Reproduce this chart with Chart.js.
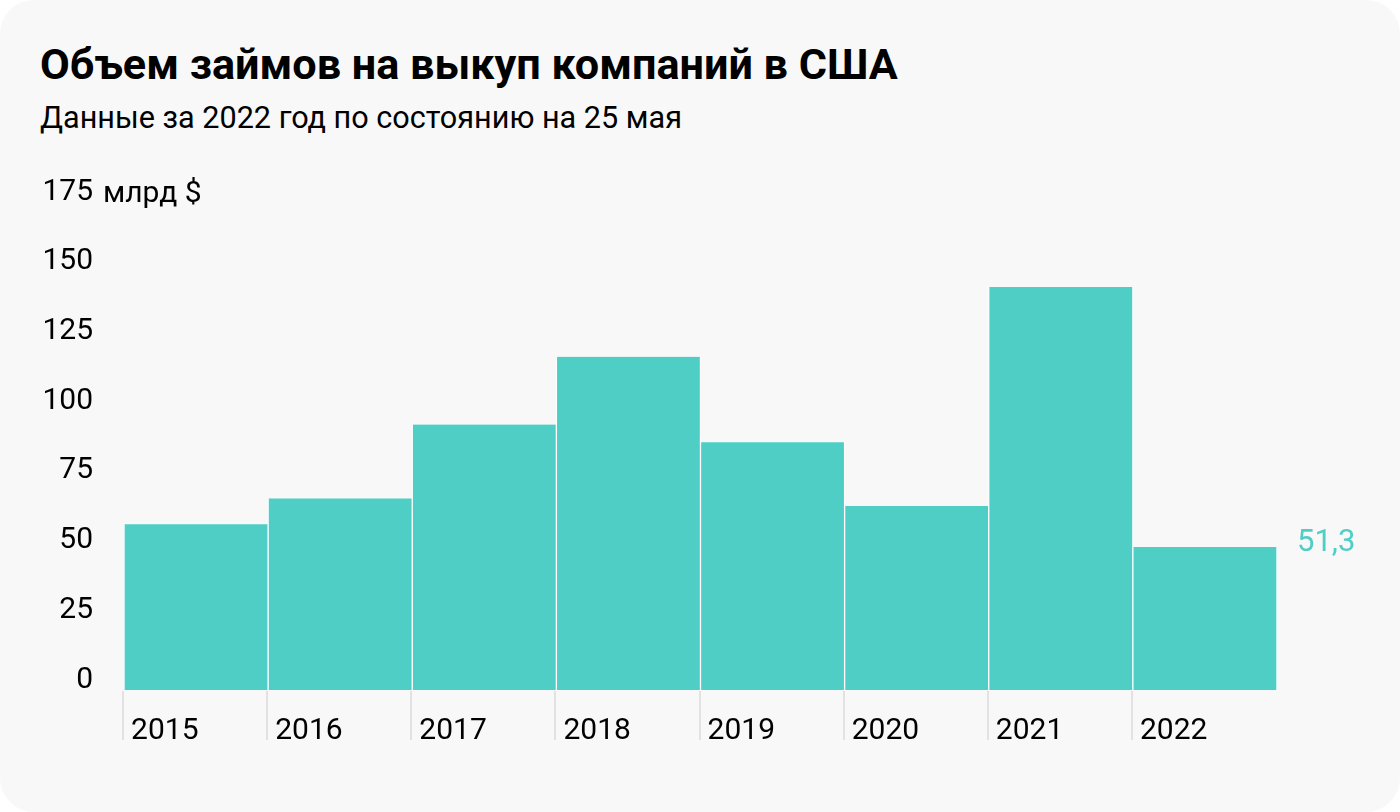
<!DOCTYPE html>
<html lang="ru">
<head>
<meta charset="utf-8">
<title>Объем займов на выкуп компаний в США</title>
<script src="https://cdn.jsdelivr.net/npm/chart.js@4/dist/chart.umd.min.js"></script>
<style>
  html, body { margin: 0; padding: 0; background: #ffffff; }
  .card {
    position: relative;
    width: 1400px;
    height: 812px;
    background: #f8f8f8;
    border-radius: 34px;
    overflow: hidden;
    font-family: Roboto, "Noto Sans", sans-serif;
    color: #000;
  }
  .title {
    position: absolute; left: 40px; top: 43px;
    font-size: 43.2px; font-weight: 700; line-height: 1; white-space: nowrap;
  }
  .subtitle {
    position: absolute; left: 40px; top: 103px;
    font-size: 30.6px; font-weight: 400; line-height: 1; white-space: nowrap;
  }
  #chart { position: absolute; left: 0; top: 0; }
</style>
</head>
<body>
<div class="card">
  <div class="title">Объем займов на выкуп компаний в США</div>
  <div class="subtitle">Данные за 2022 год по состоянию на 25 мая</div>
  <canvas id="chart" width="1400" height="812"></canvas>
</div>

<script>
// Данные
const years = ['2015', '2016', '2017', '2018', '2019', '2020', '2021', '2022'];
const loans = [59.4, 68.7, 95.2, 119.5, 88.8, 66.0, 144.5, 51.3];
const yTicks = [0, 25, 50, 75, 100, 125, 150, 175];
const unitLabel = 'млрд $';
const lastLabel = '51,3';

const teal = '#4fcec5';
const tickFont = { family: 'Roboto', size: 30 };

// Traits verticaux sous les barres + unité + valeur de 2022
const extras = {
  id: 'extras',
  afterDraw(chart) {
    const ctx = chart.ctx;
    const x = chart.scales.x;
    const y = chart.scales.y;
    const half = (x.getPixelForValue(1) - x.getPixelForValue(0)) / 2;

    ctx.save();
    ctx.strokeStyle = '#e2e2e2';
    ctx.lineWidth = 2;
    years.forEach((yr, i) => {
      const px = Math.round(x.getPixelForValue(i) - half) - 1;
      ctx.beginPath();
      ctx.moveTo(px, chart.chartArea.bottom + 1);
      ctx.lineTo(px, 740);
      ctx.stroke();
    });

    // unité après le dernier tick
    ctx.font = '30px Roboto';
    ctx.fillStyle = '#000';
    ctx.textAlign = 'left';
    ctx.textBaseline = 'alphabetic';
    const topVal = yTicks[yTicks.length - 1];
    ctx.fillText(unitLabel, 103, y.getPixelForValue(topVal));

    // étiquette de la dernière barre
    const meta = chart.getDatasetMeta(0);
    const bar = meta.data[meta.data.length - 1];
    ctx.fillStyle = teal;
    ctx.textBaseline = 'middle';
    ctx.font = '31px Roboto';
    ctx.fillText(lastLabel, bar.x + bar.width / 2 + 20, bar.y - 4);
    ctx.restore();
  }
};

new Chart(document.getElementById('chart'), {
  type: 'bar',
  data: {
    labels: years,
    datasets: [{
      data: loans,
      backgroundColor: teal,
      borderColor: '#ffffff',
      borderWidth: { left: 1, right: 1, top: 0, bottom: 0 },
      borderSkipped: false,
      categoryPercentage: 1,
      barPercentage: 1
    }]
  },
  options: {
    responsive: false,
    devicePixelRatio: 1,
    animation: false,
    layout: { padding: { left: 40, right: 123, top: 202, bottom: 48 } },
    plugins: {
      legend: { display: false },
      tooltip: { enabled: false }
    },
    scales: {
      x: {
        grid: { display: false },
        border: { display: false },
        ticks: {
          color: '#000',
          font: tickFont,
          align: 'start',
          labelOffset: -65,
          padding: 15,
          maxRotation: 0,
          autoSkip: false
        }
      },
      y: {
        min: 0,
        max: 175,
        afterBuildTicks(scale) {
          scale.ticks = yTicks.map(v => ({ value: v }));
        },
        afterFit(scale) { scale.width = 84; },
        grid: { display: false, drawTicks: false },
        border: { display: false },
        ticks: {
          color: '#000',
          font: tickFont,
          crossAlign: 'near',
          padding: 31,
          labelOffset: -10,
          callback: v => String(v)
        }
      }
    }
  },
  plugins: [extras]
});
</script>
</body>
</html>
